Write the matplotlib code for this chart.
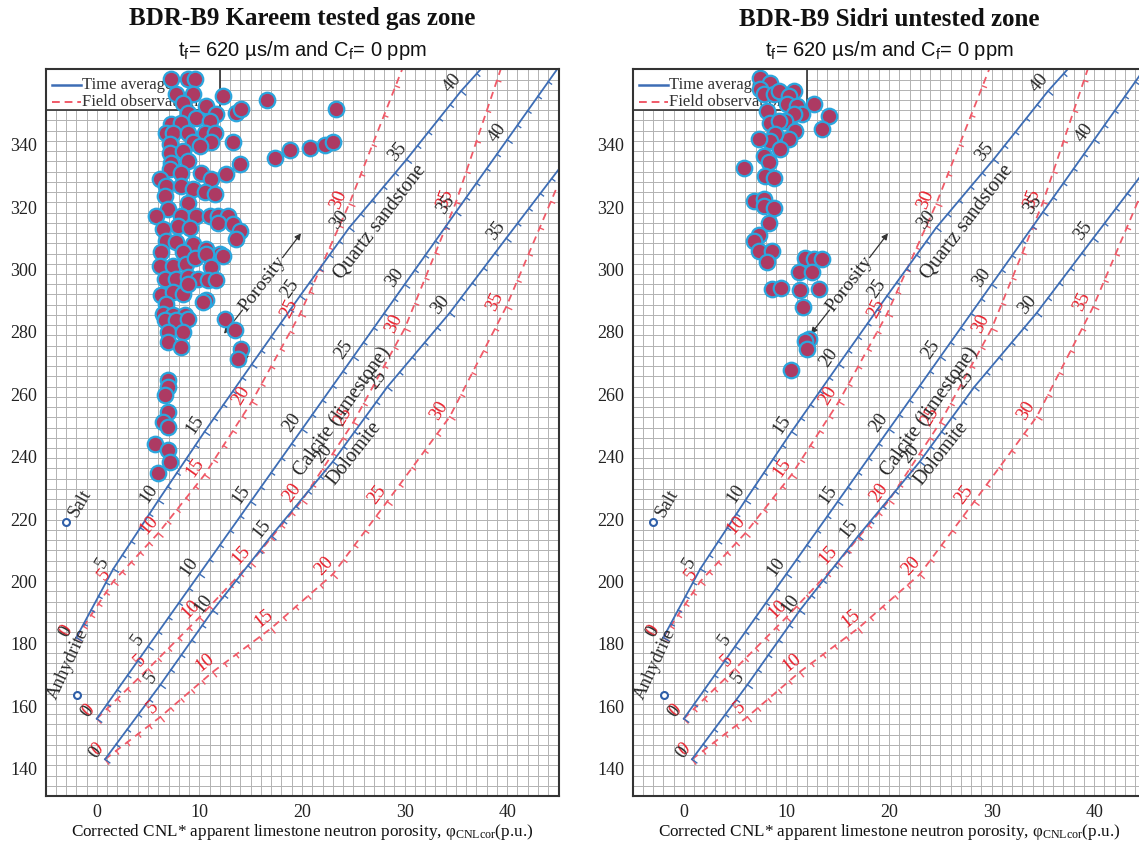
import numpy as np
import matplotlib
matplotlib.use("Agg")
import matplotlib.pyplot as plt

plt.rcParams['font.family'] = ['Liberation Serif', 'DejaVu Serif']
plt.rcParams['mathtext.default'] = 'regular'

# ---- lithology lines: porosity (p.u.), CNL reading (p.u.), sonic (us/m) ----
# time-average lines
ss_ta_por = [0, 5, 10, 15, 20, 25, 30, 35, 40, 41.3]
ss_ta_cnl = [-2.0, 1.6, 6.0, 10.5, 15.1, 19.8, 24.6, 30.2, 35.5, 37.5]
ss_ta_dt = [182, 204, 226, 248, 269.6, 291.5, 313.4, 335.3, 357.2, 364.5]

ls_ta_por = [0, 5, 10, 15, 20, 25, 30, 35, 40, 45]
ls_ta_cnl = [0, 5, 10, 15, 20, 25, 30, 35, 40, 45]
ls_ta_dt = [156, 179.2, 202.4, 225.6, 248.8, 272.0, 295.2, 318.4, 341.6, 364.8]

dol_ta_por = [0, 5, 10, 15, 20, 25, 30, 35, 39.6]
dol_ta_cnl = [0.8, 6.2, 11.3, 17.0, 23.0, 28.3, 34.4, 39.9, 45.0]
dol_ta_dt = [143, 166.9, 190.7, 214.6, 238.4, 262.3, 286.1, 310.0, 332.0]

# field observation curves
ss_fo_por = [0, 5, 10, 15, 20, 25, 30, 34.6]
ss_fo_cnl = [-2.0, 1.6, 6.0, 10.5, 15.1, 19.8, 24.6, 29.8]
ss_fo_dt = [182, 200, 215.5, 234.2, 257.6, 285.7, 321, 364.5]

ls_fo_por = [0, 5, 10, 15, 20, 25, 30, 35, 39.4]
ls_fo_cnl = [0, 5, 10, 15, 20, 25, 30, 35, 39.4]
ls_fo_dt = [156, 172, 188.5, 206, 226, 251, 281, 321.5, 364.5]

dol_fo_por = [0, 5, 10, 15, 20, 25, 30, 35, 39.5]
dol_fo_cnl = [0.8, 6.2, 11.3, 17.0, 23.0, 28.3, 34.4, 39.9, 44.8]
dol_fo_dt = [143, 156.6, 171, 185, 202.3, 225.6, 252.8, 288, 326]

salt_pt = (-3.0, 219.2)
anhydrite_pt = (-1.95, 163.6)

# ---- log data ----
kareem_cnl = [7.27, 8.89, 9.54, 7.76, 9.38, 12.30, 8.40, 10.68, 13.60, 14.09,
              8.89, 11.66, 9.71, 11.0, 7.27, 8.25, 6.79, 7.43, 8.89, 10.52,
              11.49, 9.38, 11.17, 13.27, 7.11, 10.03, 7.11, 8.40, 13.92, 7.27,
              8.89, 7.11, 10.19, 12.63, 8.25, 6.13, 11.17, 6.79, 8.25, 9.38,
              6.62, 10.52, 11.49, 8.89, 6.94, 5.81, 8.25, 9.71, 11.0, 11.81,
              12.78, 7.92, 11.81, 13.27, 6.46, 9.06, 13.92, 13.60, 6.79, 7.76,
              9.38, 10.68, 6.30, 8.40, 11.98, 6.13, 7.43, 8.73, 9.54, 10.68,
              12.30, 11.17, 6.62, 7.76, 8.89, 9.86, 10.84, 11.66, 6.30, 7.43,
              8.40, 6.79, 8.89, 10.68, 10.35, 6.46, 7.43, 8.57, 6.62, 7.76,
              8.89, 6.94, 8.40, 6.94, 8.25, 12.46, 13.44, 14.09, 13.76, 6.94,
              6.94, 6.62, 6.94, 6.46, 6.94, 5.65, 6.94, 7.11, 5.97, 16.62,
              17.33, 18.86, 20.74, 22.20, 23.01, 23.34]
kareem_dt = [360.9, 360.9, 360.9, 356.1, 356.1, 355.6, 353.4, 352.4, 350.2, 351.3,
             350.2, 349.7, 348.6, 347.6, 346.5, 347.0, 343.8, 343.8, 343.8, 343.8,
             343.8, 341.0, 341.0, 341.0, 340.1, 339.6, 337.4, 338.0, 333.7, 334.2,
             334.8, 332.1, 331.0, 330.5, 331.0, 328.9, 328.9, 326.8, 326.8, 325.7,
             323.6, 324.7, 324.1, 321.4, 319.3, 317.2, 317.2, 317.2, 317.2, 317.2,
             317.2, 314.0, 315.0, 314.5, 312.9, 313.4, 312.4, 309.7, 309.2, 308.7,
             308.1, 306.5, 305.5, 305.5, 304.9, 301.2, 301.2, 301.8, 303.8, 305.0,
             304.4, 300.7, 297.0, 297.0, 297.6, 297.0, 296.5, 296.5, 291.7, 292.7,
             292.2, 289.0, 295.4, 290.1, 289.5, 285.8, 285.3, 285.3, 283.7, 283.7,
             284.2, 280.0, 280.0, 276.7, 275.1, 284.2, 280.5, 274.6, 271.4, 264.5,
             262.4, 259.7, 254.4, 251.2, 249.6, 244.2, 242.1, 238.4, 234.7, 354.3,
             335.8, 338.3, 339.0, 339.8, 340.9, 351.3]

sidri_cnl = [7.47, 8.44, 7.47, 7.79, 8.76, 9.25, 10.71, 10.22, 10.06, 11.03,
             8.11, 12.66, 14.12, 13.47, 11.52, 10.71, 9.90, 8.44, 9.25, 10.88,
             10.22, 8.93, 8.44, 7.30, 9.42, 7.79, 8.28, 5.84, 7.96, 8.76,
             6.82, 7.79, 7.79, 8.76, 8.28, 7.30, 6.82, 7.30, 8.60, 8.11,
             11.78, 12.66, 13.47, 11.20, 12.49, 8.60, 9.51, 11.36, 13.21, 11.59,
             12.17, 11.85, 12.01, 10.49]
sidri_dt = [361.4, 359.8, 357.7, 356.1, 356.1, 357.2, 357.2, 355.6, 352.9, 352.4,
            350.8, 352.9, 349.2, 344.9, 349.7, 349.7, 347.6, 347.0, 347.6, 344.4,
            341.7, 343.3, 341.2, 341.9, 338.5, 336.4, 334.5, 332.5, 330.0, 329.4,
            322.0, 322.5, 320.4, 319.8, 314.9, 311.0, 309.2, 306.0, 306.0, 302.5,
            303.6, 303.4, 303.4, 299.1, 299.1, 293.6, 294.0, 293.3, 293.6, 288.1,
            277.8, 277.0, 274.4, 267.7]

BLUE = '#3d6db5'
RED = '#f05a68'
RED_TXT = '#e8202c'
DARK = '#2a2a2a'
US_FT = 3.2808  # one us/ft in us/m
Y_LO, Y_HI = 40 * US_FT, 111 * US_FT


def draw_curve(ax, por, cnl, dt, color, ls, txt_color):
    ax.plot(cnl, dt, color=color, ls=ls, lw=1.3, zorder=3,
            dashes=(4, 3) if ls == '--' else (None, None))
    to_px = ax.transData
    to_data = to_px.inverted()

    def px(p):
        return to_px.transform((np.interp(p, por, cnl), np.interp(p, por, dt)))

    for p in range(0, int(np.floor(por[-1])) + 1):
        a = px(max(p - 0.3, 0))
        b = px(min(p + 0.3, por[-1]))
        t = (b - a) / np.hypot(*(b - a))
        n = np.array([t[1], -t[0]])
        c = px(p)
        major = p % 5 == 0
        seg = to_data.transform([c, c + n * (6 if major else 4)])
        ax.plot(seg[:, 0], seg[:, 1], color=color, lw=1.0, zorder=3)
        if major:
            pos = to_data.transform(c - n * 12)
            if not (-5 < pos[0] < 44 and Y_LO < pos[1] < Y_HI - 2):
                continue
            ang = np.degrees(np.arctan2(t[1], t[0]))
            ax.text(pos[0], pos[1], str(p), color=txt_color, fontsize=13.5,
                    rotation=ang, rotation_mode='anchor', ha='center',
                    va='center', zorder=4, clip_on=True)


def line_angle(ax, cnl, dt, i, j):
    a = ax.transData.transform((cnl[i], dt[i]))
    b = ax.transData.transform((cnl[j], dt[j]))
    return np.degrees(np.arctan2(b[1] - a[1], b[0] - a[0]))


def draw_panel(ax, x, y):
    ax.set_xlim(-5, 45)
    ax.set_ylim(Y_LO, Y_HI)

    # background grid: 1 p.u. by 1 us/ft
    ax.vlines(np.arange(-4, 45), Y_LO, Y_HI, color='#b2b2b2', lw=0.7, zorder=0)
    ax.hlines(np.arange(41, 111) * US_FT, -5, 45, color='#b2b2b2', lw=0.7, zorder=0)

    draw_curve(ax, ss_fo_por, ss_fo_cnl, ss_fo_dt, RED, '--', RED_TXT)
    draw_curve(ax, ls_fo_por, ls_fo_cnl, ls_fo_dt, RED, '--', RED_TXT)
    draw_curve(ax, dol_fo_por, dol_fo_cnl, dol_fo_dt, RED, '--', RED_TXT)
    draw_curve(ax, ss_ta_por, ss_ta_cnl, ss_ta_dt, BLUE, '-', DARK)
    draw_curve(ax, ls_ta_por, ls_ta_cnl, ls_ta_dt, BLUE, '-', DARK)
    draw_curve(ax, dol_ta_por, dol_ta_cnl, dol_ta_dt, BLUE, '-', DARK)

    ax.text(27.6, 315.1, 'Quartz sandstone', fontsize=14.5, color=DARK,
            rotation=line_angle(ax, ss_ta_cnl, ss_ta_dt, 4, 8),
            ha='center', va='center', rotation_mode='anchor', zorder=4)
    ax.text(24.0, 254.4, 'Calcite (limestone)', fontsize=14.5, color=DARK,
            rotation=line_angle(ax, ls_ta_cnl, ls_ta_dt, 3, 7),
            ha='center', va='center', rotation_mode='anchor', zorder=4)
    ax.text(25.1, 241.0, 'Dolomite', fontsize=14.5, color=DARK,
            rotation=line_angle(ax, dol_ta_cnl, dol_ta_dt, 3, 7),
            ha='center', va='center', rotation_mode='anchor', zorder=4)

    # matrix points
    for pt in (salt_pt, anhydrite_pt):
        ax.plot(*pt, 'o', ms=5, mfc='white', mec='#2f5fa8', mew=1.5, zorder=4)
    ax.text(-1.6, 225.0, 'Salt', fontsize=13.5, color=DARK, rotation=60,
            ha='center', va='center', rotation_mode='anchor', zorder=4)
    ax.text(-2.8, 173.5, 'Anhydrite', fontsize=13.5, color=DARK, rotation=65,
            ha='center', va='center', rotation_mode='anchor', zorder=4)

    # porosity direction arrow
    ang = line_angle(ax, ss_ta_cnl, ss_ta_dt, 4, 8)
    ax.text(16.1, 295.4, 'Porosity', fontsize=14, color=DARK, rotation=ang,
            ha='center', va='center', rotation_mode='anchor', zorder=4)
    ax.annotate('', xy=(12.4, 279.4), xytext=(14.2, 287.0),
                arrowprops=dict(arrowstyle='-|>', color='#333333', lw=0.9,
                                mutation_scale=9, shrinkA=0, shrinkB=0), zorder=4)
    ax.annotate('', xy=(19.9, 311.6), xytext=(18.1, 303.8),
                arrowprops=dict(arrowstyle='-|>', color='#333333', lw=0.9,
                                mutation_scale=9, shrinkA=0, shrinkB=0), zorder=4)

    # legend box
    ax.add_patch(plt.Rectangle((-5, 351.2), 17.0, 14.0, facecolor='white',
                               edgecolor='#333333', lw=1.2, zorder=5))
    ax.plot([-4.4, -1.5], [359.2, 359.2], color=BLUE, lw=1.8, zorder=6)
    ax.plot([-4.4, -1.5], [353.8, 353.8], color=RED, lw=1.4, dashes=(4, 2.5), zorder=6)
    ax.text(-1.4, 359.2, 'Time average', fontsize=12, color='#333333',
            va='center', ha='left', zorder=6)
    ax.text(-1.4, 353.8, 'Field observation', fontsize=12, color='#333333',
            va='center', ha='left', zorder=6)

    ax.scatter(x, y, s=125, c='#ad3a63', edgecolors='#2ba6de', linewidths=1.6, zorder=10)

    ax.set_xticks([0, 10, 20, 30, 40])
    ax.set_yticks(np.arange(140, 341, 20))
    ax.tick_params(length=0, labelsize=13, pad=6, colors='#222222')
    for s in ax.spines.values():
        s.set_color('#333333')
        s.set_linewidth(1.5)
        s.set_zorder(11)


fig = plt.figure(figsize=(11.39, 8.48), dpi=100)
panels = [
    (45.5, kareem_cnl, kareem_dt, 'BDR-B9 Kareem tested gas zone'),
    (632.5, sidri_cnl, sidri_dt, 'BDR-B9 Sidri untested zone'),
]
for left_px, x, y, title in panels:
    ax = fig.add_axes([left_px / 1139, 52 / 848, 513 / 1139, 726.7 / 848])
    draw_panel(ax, x, y)
    cx = (left_px + 256.5) / 1139
    fig.text(cx, 1 - 19 / 848, title, ha='center', va='center',
             fontsize=18, fontweight='bold', color='#111111')
    fig.text(cx, 1 - 50 / 848,
             r'$\mathregular{t_f}$= 620 µs/m and $\mathregular{C_f}$= 0 ppm',
             ha='center', va='center', fontsize=14.5, family='Liberation Sans',
             color='#111111')
    fig.text(cx, 1 - 832 / 848,
             r'Corrected CNL* apparent limestone neutron porosity, φ$_{\mathregular{CNLcor}}$(p.u.)',
             ha='center', va='center', fontsize=12.3, color='#111111')

fig.savefig('out.png', dpi=100)
